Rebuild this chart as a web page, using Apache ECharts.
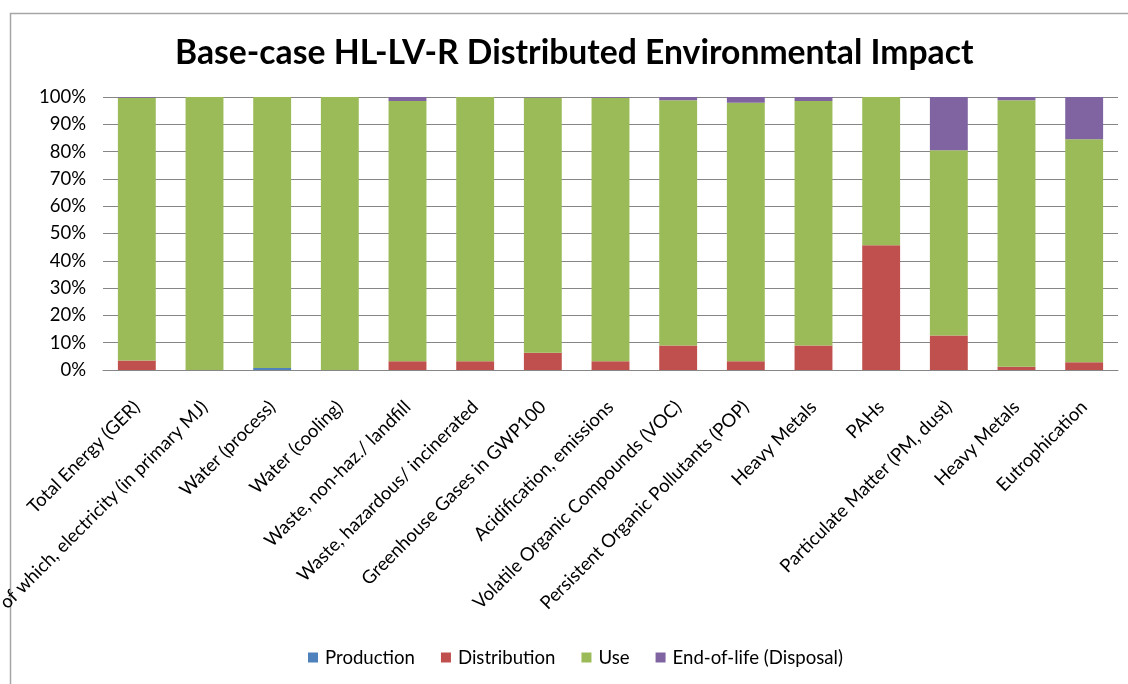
<!DOCTYPE html>
<html>
<head>
<meta charset="utf-8">
<script src="https://cdn.jsdelivr.net/npm/echarts@6/dist/echarts.min.js"></script>
<style>
  html, body { margin: 0; padding: 0; background: #fff; }
  #chart { width: 1128px; height: 684px; }
</style>
</head>
<body>
<div id="chart"></div>
<script>
var categories = [
  'Total Energy (GER)',
  'of which, electricity (in primary MJ)',
  'Water (process)',
  'Water (cooling)',
  'Waste, non-haz./ landfill',
  'Waste, hazardous/ incinerated',
  'Greenhouse Gases in GWP100',
  'Acidification, emissions',
  'Volatile Organic Compounds (VOC)',
  'Persistent Organic Pollutants (POP)',
  'Heavy Metals',
  'PAHs',
  'Particulate Matter (PM, dust)',
  'Heavy Metals',
  'Eutrophication'
];

// percentages of each impact
var production   = [0,   0,   0.7, 0,   0,    0,   0,   0,   0,    0,    0,    0,    0,    0,    0];
var distribution = [3.5, 0,   0,   0,   3.2,  3.2, 6.3, 3.2, 9.0,  3.2,  9.0,  45.7, 12.6, 1.2,  2.8];
var use          = [96.2, 100, 99.3, 100, 95.3, 96.8, 93.5, 96.5, 89.8, 94.7, 89.5, 54.3, 67.9, 97.6, 81.7];
var endOfLife    = [0.3, 0,   0,   0,   1.5,  0,   0.2, 0.3, 1.2,  2.1,  1.5,  0,    19.5, 1.2,  15.5];

var font = 'Lato';

var dom = document.getElementById('chart');
var myChart = echarts.init(dom, null, { renderer: 'canvas' });

function makeSeries(name, data, color) {
  return {
    name: name,
    type: 'bar',
    stack: 'total',
    barCategoryGap: '44%',
    itemStyle: { color: color },
    data: data
  };
}

var option = {
  animation: false,
  backgroundColor: '#fff',
  textStyle: { fontFamily: font },
  title: {
    text: 'Base-case HL-LV-R Distributed Environmental Impact',
    left: 170,
    top: 31,
    textStyle: { fontFamily: font, fontSize: 33.7, fontWeight: 'bold', color: '#000' }
  },
  graphic: [{
    type: 'rect',
    left: 8,
    top: 11,
    shape: { width: 1140, height: 700 },
    style: { fill: 'none', stroke: '#a6a6a6', lineWidth: 1.5 },
    silent: true
  }],
  legend: {
    bottom: 12,
    left: 303,
    itemWidth: 10,
    itemHeight: 10,
    itemGap: 26,
    icon: 'rect',
    textStyle: { fontFamily: font, fontSize: 18.6, color: '#000', padding: [0, 0, 0, 2] },
    data: ['Production', 'Distribution', 'Use', 'End-of-life (Disposal)']
  },
  grid: { left: 103, right: 10, top: 97, bottom: 314, containLabel: false, outerBoundsMode: 'none' },
  xAxis: {
    type: 'category',
    data: categories,
    axisLine: { show: true, lineStyle: { color: '#868686' } },
    axisTick: { show: false },
    axisLabel: {
      rotate: 45,
      interval: 0,
      margin: 34,
      fontFamily: font,
      fontSize: 18.5,
      color: '#000'
    }
  },
  yAxis: {
    type: 'value',
    min: 0,
    max: 100,
    interval: 10,
    axisLine: { show: false },
    axisTick: { show: false },
    splitLine: { lineStyle: { color: '#868686', width: 1 } },
    axisLabel: {
      margin: 17,
      fontFamily: font,
      fontSize: 18.5,
      color: '#000',
      formatter: '{value}%'
    }
  },
  series: [
    makeSeries('Production', production, '#4f81bd'),
    makeSeries('Distribution', distribution, '#c0504d'),
    makeSeries('Use', use, '#9bbb59'),
    makeSeries('End-of-life (Disposal)', endOfLife, '#8064a2')
  ]
};

myChart.setOption(option);
window.addEventListener('resize', myChart.resize);
</script>
</body>
</html>
